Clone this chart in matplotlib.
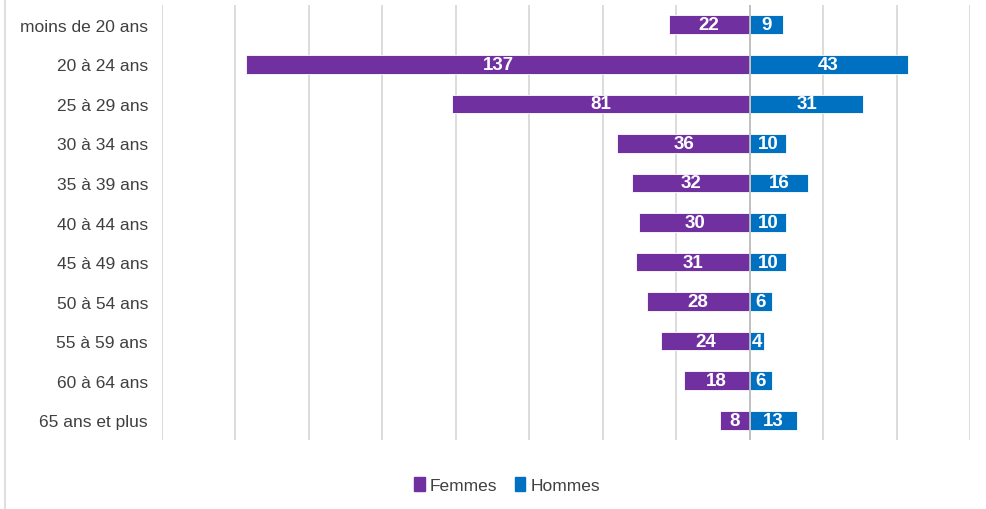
import matplotlib
matplotlib.use("Agg")
import matplotlib.pyplot as plt
from matplotlib.patches import Rectangle
from matplotlib.lines import Line2D

categories = ["moins de 20 ans", "20 à 24 ans", "25 à 29 ans", "30 à 34 ans", "35 à 39 ans",
              "40 à 44 ans", "45 à 49 ans", "50 à 54 ans", "55 à 59 ans", "60 à 64 ans",
              "65 ans et plus"]
femmes = [22, 137, 81, 36, 32, 30, 31, 28, 24, 18, 8]
hommes = [9, 43, 31, 10, 16, 10, 10, 6, 4, 6, 13]
xticks = [-160, -140, -120, -100, -80, -60, -40, -20, 0, 20, 40, 60]

plt.rcParams['font.family'] = ['Liberation Sans', 'DejaVu Sans']

c_f = "#7030A0"
c_h = "#0070C0"

fig = plt.figure(figsize=(9.87, 5.10), dpi=100)
ax = fig.add_axes([162/987, 1-441/510, (970-162)/987, 435/510])

ypos = list(range(len(categories)))
h = 0.47
bf = ax.barh(ypos, [-v for v in femmes], height=h, color=c_f, edgecolor="white", linewidth=0.6, zorder=3)
bh = ax.barh(ypos, hommes, height=h, color=c_h, edgecolor="white", linewidth=0.6, zorder=3)

for bars, vals in ((bf, femmes), (bh, hommes)):
    for rect, v in zip(bars, vals):
        x = rect.get_x() + rect.get_width() / 2
        y = rect.get_y() + rect.get_height() / 2
        t = ax.text(x, y, str(v), ha="center", va="center", color="white",
                    fontsize=13.5, fontweight="bold", zorder=4)
        t.set_clip_path(rect)

ax.set_xlim(-160, 60)
ax.set_ylim(len(categories) - 0.5, -0.5)
ax.set_xticks(xticks)
ax.set_xticklabels([])
ax.tick_params(axis='x', length=0)
ax.grid(axis='x', color="#D9D9D9", linewidth=1.3, zorder=0)
ax.set_yticks(ypos)
ax.set_yticklabels(categories, fontsize=12.5, color="#404040")
ax.tick_params(axis='y', length=0, pad=10)
for s in ax.spines.values():
    s.set_visible(False)
ax.axvline(0, color="#BFBFBF", linewidth=1.3, zorder=5)

handles = [Rectangle((0, 0), 1, 1, color=c_f), Rectangle((0, 0), 1, 1, color=c_h)]
fig.legend(handles, ["Femmes", "Hommes"], loc="center", bbox_to_anchor=(507/987, 1-486/510),
           ncol=2, frameon=False, fontsize=12.5, handlelength=0.6, handleheight=0.9,
           handletextpad=0.3, columnspacing=1.0, labelcolor="#404040")

fig.add_artist(Line2D([5/987, 5/987], [0, 1], color="#D9D9D9", linewidth=1.2))

fig.savefig("out.png", dpi=100)
